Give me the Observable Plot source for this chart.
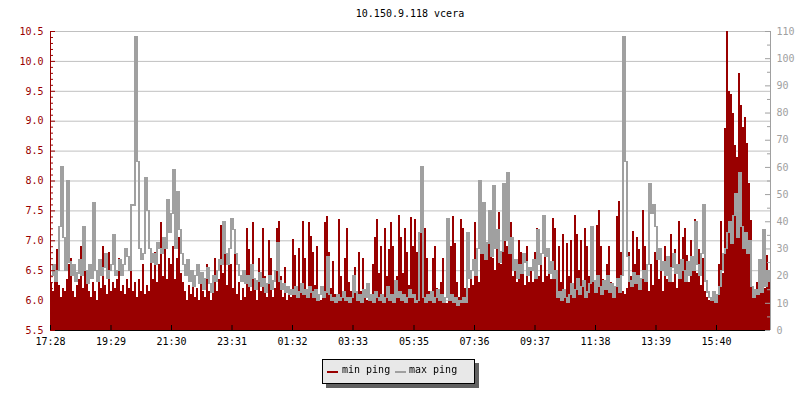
<!DOCTYPE html>
<html>
<head>
<meta charset="utf-8">
<script src="https://cdn.jsdelivr.net/npm/d3@7"></script>
<script src="https://cdn.jsdelivr.net/npm/@observablehq/plot@0.6"></script>
<style>
  body { margin: 0; background: #fff; font-family: "DejaVu Sans Mono", monospace; }
  #wrap { position: relative; width: 800px; height: 400px; overflow: hidden; }
  #title { height: 24px; line-height: 27px; width: 820px; text-align: center; font-size: 10px; color: #000; }
  #legend { position: absolute; left: 322px; top: 359px; width: 153px; height: 25px; box-sizing: border-box;
            border: 1px solid #000; background: #e8e8e8; box-shadow: 4px 4px 0 #606060; font-size: 10px;
            will-change: transform; }
  #legend .sw { position: absolute; top: 11px; width: 11px; height: 2px; }
  #legend .tx { position: absolute; top: 4px; line-height: 12px; color: #000; white-space: pre; }
</style>
</head>
<body>
<div id="wrap">
  <div id="title">10.150.9.118 vcera</div>
  <div id="chart"></div>
  <div id="legend">
    <span class="sw" style="left:4px;background:#990000"></span><span class="tx" style="left:19px">min ping</span>
    <span class="sw" style="left:72px;background:#a0a0a0"></span><span class="tx" style="left:86px">max ping</span>
  </div>
</div>
<script>
// min ping (left axis, ms), one value per 4 minutes starting 17:28
const minPing = [
  6.3,6.15,6.35,6.85,6.25,6.05,6.2,6.15,6.35,6.6,6.7,6.15,6.05,6.25,6.35,6.9,6.2,7.0,6.45,6.15,6.05,6.3,6.15,6.0,6.35,6.2,6.9,6.25,6.1,6.8,
  6.15,6.3,6.2,6.35,6.7,6.15,6.25,6.1,6.35,6.2,6.92,6.15,6.3,6.05,6.35,6.15,6.6,6.1,6.25,6.15,6.7,6.35,6.8,6.3,6.6,7.3,6.4,6.9,6.35,6.7,
  6.6,6.9,6.35,6.7,7.05,6.45,6.3,6.15,6.0,6.25,6.1,6.35,6.05,6.2,6.0,6.3,6.15,6.05,6.6,6.15,6.0,6.25,6.7,6.15,6.35,7.25,6.45,7.0,6.25,6.85,
  6.6,6.2,6.8,6.1,6.3,6.0,6.2,6.05,7.2,6.85,6.15,7.3,6.25,6.0,6.7,6.15,7.2,6.4,6.05,7.0,6.7,6.05,6.2,7.2,7.33,6.4,6.05,6.55,6.0,6.15,
  6.05,7.02,6.75,6.1,6.87,6.25,7.32,6.7,6.05,7.3,7.08,6.8,6.25,6.9,6.1,6.0,6.15,7.3,7.4,6.8,6.2,6.65,6.1,6.0,7.35,6.4,6.1,6.7,7.2,6.3,
  6.15,6.05,6.55,6.0,6.8,6.15,6.7,6.05,6.0,6.2,6.0,6.6,7.05,7.36,6.45,6.9,6.1,7.2,6.4,6.85,7.3,6.9,6.05,6.4,7.42,7.05,6.45,7.2,6.8,6.25,
  7.39,6.9,7.35,6.8,6.25,7.2,6.8,7.2,6.7,6.15,6.1,6.7,6.9,6.2,6.0,6.3,6.7,6.05,5.95,7.35,6.9,7.4,6.95,6.3,6.05,7.35,7.2,6.2,6.6,6.2,
  6.5,6.25,7.3,6.7,6.3,7.2,6.8,7.36,6.9,7.05,7.47,6.7,6.5,7.05,7.47,6.6,7.2,7.45,6.9,6.95,7.3,6.4,6.6,6.3,7.0,6.8,6.55,6.25,6.9,6.3,
  6.55,6.3,6.8,7.2,6.4,6.7,6.3,6.85,6.4,6.7,6.35,7.37,7.2,6.1,6.9,6.3,7.1,6.15,6.95,6.4,7.0,6.25,7.42,7.1,6.5,7.0,6.3,7.2,6.9,6.4,
  6.3,6.6,6.15,7.25,7.5,6.9,6.35,6.2,6.6,6.9,6.3,6.1,6.15,7.4,7.66,6.8,6.15,6.1,6.2,6.8,6.4,7.15,6.6,7.05,6.85,6.35,7.5,6.9,6.35,6.15,
  6.6,6.25,6.8,7.05,6.35,6.85,6.15,6.9,6.35,6.7,7.1,6.3,6.85,6.2,7.33,6.5,7.05,7.2,6.75,6.3,7.0,6.6,7.35,6.45,6.85,6.25,6.7,6.15,6.05,6.0,
  6.0,6.05,5.98,6.1,6.6,7.33,6.45,8.88,10.5,9.5,9.45,9.13,8.6,8.4,9.8,9.26,8.9,9.07,8.63,7.95,7.34,6.2,6.05,6.3,6.1,6.45,6.8,6.2,6.75,6.3
];
// max ping (right axis, ms)
const maxPing = [
  20,24,18,22,38,60,34,22,55,25,20,24,18,21,26,20,38,22,17,24,19,47,22,18,26,20,23,28,19,22,
  24,35,20,22,26,20,24,30,27,22,46,46,108,62,30,26,28,56,44,30,25,28,24,32,30,28,34,30,48,36,
  43,59,30,51,37,28,24,20,26,18,22,16,20,24,17,21,15,19,23,17,14,20,18,22,26,24,40,28,24,30,
  41,37,28,24,20,18,22,17,20,16,24,19,15,18,21,16,19,14,17,20,15,18,22,32,18,15,17,14,16,13,
  15,13,16,12,14,17,13,15,12,16,14,12,15,11,13,16,12,14,27,13,11,12,10,13,11,12,14,11,12,10,
  12,20,14,11,13,10,15,12,17,11,13,10,14,12,11,13,10,12,16,11,13,10,18,12,14,11,13,10,12,15,
  12,13,10,11,36,60,12,10,13,11,14,10,12,15,11,13,10,12,41,11,13,10,12,9,11,10,12,10,36,19,
  22,26,20,30,55,28,47,26,32,44,27,53,30,37,25,29,54,33,58,28,34,22,26,19,24,21,28,25,20,23,
  22,26,19,37,24,28,42,27,30,21,25,19,22,12,14,11,15,12,10,13,17,12,15,19,13,16,18,12,14,17,
  38,18,14,20,16,13,18,15,20,14,17,12,16,19,14,20,108,62,27,18,16,21,17,20,15,19,22,18,24,54,
  43,46,38,26,30,22,25,20,27,18,23,28,21,24,19,26,22,18,25,20,27,22,40,24,20,28,46,18,14,12,
  11,14,10,13,16,22,28,30,36,40,32,42,50,34,58,38,30,36,28,33,16,12,15,13,26,14,37,16,22,18
];
const timeTicks = ["17:28","19:29","21:30","23:31","01:32","03:33","05:35","07:36","09:37","11:38","13:39","15:40"];
const leftTicks = [5.5,6.0,6.5,7.0,7.5,8.0,8.5,9.0,9.5,10.0,10.5];
const rightTicks = [0,10,20,30,40,50,60,70,80,90,100,110];

const RED = "#990000", GRAY = "#a0a0a0";
const toLeft = v => 5.5 + v * 5 / 110;
const fromLeft = d => (d - 5.5) * 22;
const t0 = Date.UTC(2024, 0, 1, 17, 28);
const STEP = 4 * 60000;
const rows = minPing.map((v, i) => ({
  t: new Date(t0 + i * STEP), t2: new Date(t0 + (i + 1) * STEP), min: v, max: maxPing[i]
}));
// the max-ping line drawn as its vertical runs (from the previous value to this one)
const grayRows = rows.map((d, i) => {
  const prev = i > 0 ? maxPing[i - 1] : d.max;
  return { t: d.t, t2: d.t2, lo: toLeft(Math.min(prev, d.max)), hi: toLeft(Math.max(prev, d.max)) };
});
const tStart = new Date(t0);
const tEnd = new Date(t0 + minPing.length * STEP);
const tickDates = timeTicks.map(s => {
  const [h, m] = s.split(":").map(Number);
  const mins = ((h * 60 + m) - (17 * 60 + 28) + 1440) % 1440;
  return new Date(t0 + mins * 60000);
});
const leftMinor = d3.range(55, 106).filter(k => k % 5 !== 0).map(k => k / 10);
const rightMinor = d3.range(5, 110, 10);

const chart = Plot.plot({
  width: 800, height: 328,
  marginTop: 7, marginBottom: 22, marginLeft: 50, marginRight: 30,
  style: { fontFamily: "'DejaVu Sans Mono', monospace", fontSize: "10px", background: "#fff", color: "#000" },
  x: { type: "utc", domain: [tStart, tEnd] },
  y: { domain: [5.5, 10.5] },
  marks: [
    Plot.ruleY(leftTicks.slice(1), { y: d => d, stroke: "#c0c0c0" }),
    Plot.rect(rows, { x1: "t", x2: "t2", y1: 5.5, y2: "min", fill: RED, shapeRendering: "crispEdges" }),
    Plot.rect(grayRows, { x1: "t", x2: "t2", y1: "lo", y2: "hi", fill: GRAY, insetTop: -0.6, insetBottom: -0.6, shapeRendering: "crispEdges" }),
    Plot.ruleX([tStart], { x: d => d, stroke: RED }),
    Plot.ruleX([tEnd], { x: d => d, stroke: GRAY }),
    Plot.ruleY([5.5], { y: d => d, stroke: "#000" }),
    Plot.tickY(leftTicks, { y: d => d, stroke: RED, insetRight: 715 }),
    Plot.tickY(leftMinor, { y: d => d, stroke: RED, insetRight: 717 }),
    Plot.tickY(rightTicks, { y: d => toLeft(d), stroke: GRAY, insetLeft: 715 }),
    Plot.tickY(rightMinor, { y: d => toLeft(d), stroke: GRAY, insetLeft: 717 }),
    Plot.tickX(tickDates, { x: d => d, stroke: "#000", insetTop: 294 }),
    Plot.axisY(leftTicks, { anchor: "left", tickSize: 0, tickPadding: 7, tickFormat: d3.format(".1f"), color: RED, label: null }),
    Plot.axisY(rightTicks.map(toLeft), { anchor: "right", tickSize: 0, tickPadding: 6, tickFormat: d => String(Math.round(fromLeft(d))), color: GRAY, label: null }),
    Plot.axisX(tickDates, { anchor: "bottom", tickSize: 0, tickPadding: 7, tickFormat: d3.utcFormat("%H:%M"), color: "#000", label: null })
  ]
});
document.getElementById("chart").appendChild(chart);
</script>
</body>
</html>
